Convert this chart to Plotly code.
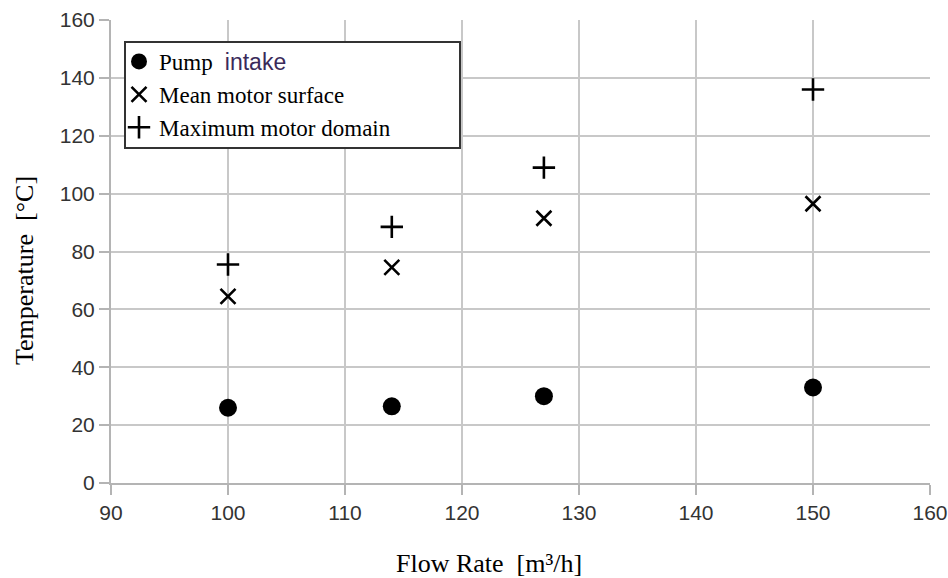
import plotly.graph_objects as go

flow_rate = [100, 114, 127, 150]
pump_intake = [26, 26.5, 30, 33]
mean_motor_surface = [64.5, 74.5, 91.5, 96.5]
max_motor_domain = [75.5, 88.5, 109, 136]

x_ticks = [90, 100, 110, 120, 130, 140, 150, 160]
y_ticks = [0, 20, 40, 60, 80, 100, 120, 140, 160]

W, H = 948, 578
L, R, T, B = 111, 18, 20, 95
PW, PH = W - L - R, H - T - B


def px_x(p):
    return (p - L) / PW


def px_y(p):
    return (H - B - p) / PH


fig = go.Figure()
fig.add_trace(go.Scatter(
    x=flow_rate, y=pump_intake, mode="markers",
    name="Pump <span style='font-family:Liberation Sans;color:#3a2a5a'> intake</span>",
    marker=dict(symbol="circle", size=18, color="black")))
fig.add_trace(go.Scatter(
    x=flow_rate, y=mean_motor_surface, mode="markers",
    name="Mean motor surface",
    marker=dict(symbol="x-thin", size=15, color="black",
                line=dict(width=2.6, color="black"))))
fig.add_trace(go.Scatter(
    x=flow_rate, y=max_motor_domain, mode="markers",
    name="Maximum motor domain",
    marker=dict(symbol="cross-thin", size=16, color="black",
                line=dict(width=2.6, color="black"))))

axis_common = dict(
    showgrid=True, gridcolor="#c8c8c8", gridwidth=2,
    showline=True, linecolor="#b4b4b4", linewidth=2,
    ticks="outside", ticklen=10, tickcolor="#b4b4b4", tickwidth=2,
    tickfont=dict(family="Liberation Sans, Arial", size=21, color="#333333"),
    zeroline=False, mirror=False, automargin=False,
)

title_font = dict(family="Liberation Serif, Times New Roman", size=26, color="black")

fig.update_layout(
    width=W, height=H,
    margin=dict(l=L, r=R, t=T, b=B, autoexpand=False),
    plot_bgcolor="white", paper_bgcolor="white",
    xaxis=dict(range=[90, 160], tickvals=x_ticks, **axis_common),
    yaxis=dict(range=[0, 160], tickvals=y_ticks, **axis_common),
    legend=dict(
        x=px_x(119), y=px_y(40), xanchor="left", yanchor="top",
        bgcolor="rgba(0,0,0,0)", borderwidth=0,
        font=dict(family="Liberation Serif, Times New Roman", size=23, color="black"),
        itemwidth=30, tracegroupgap=0,
    ),
    showlegend=True,
    shapes=[dict(type="rect", xref="paper", yref="paper",
                 x0=px_x(125), x1=px_x(460), y0=px_y(148), y1=px_y(42),
                 line=dict(color="#333333", width=2), fillcolor="white",
                 layer="above")],
    annotations=[
        dict(text="Flow Rate  [m³/h]", xref="paper", yref="paper",
             x=px_x(489), y=px_y(563),
             xanchor="center", yanchor="middle", showarrow=False, font=title_font),
        dict(text="Temperature  [°C]", xref="paper", yref="paper",
             x=px_x(24), y=px_y(271), textangle=-90,
             xanchor="center", yanchor="middle", showarrow=False, font=title_font),
    ],
)

fig.write_html("out.html", config={"displayModeBar": False},
               post_script="document.body.style.margin='0';")
